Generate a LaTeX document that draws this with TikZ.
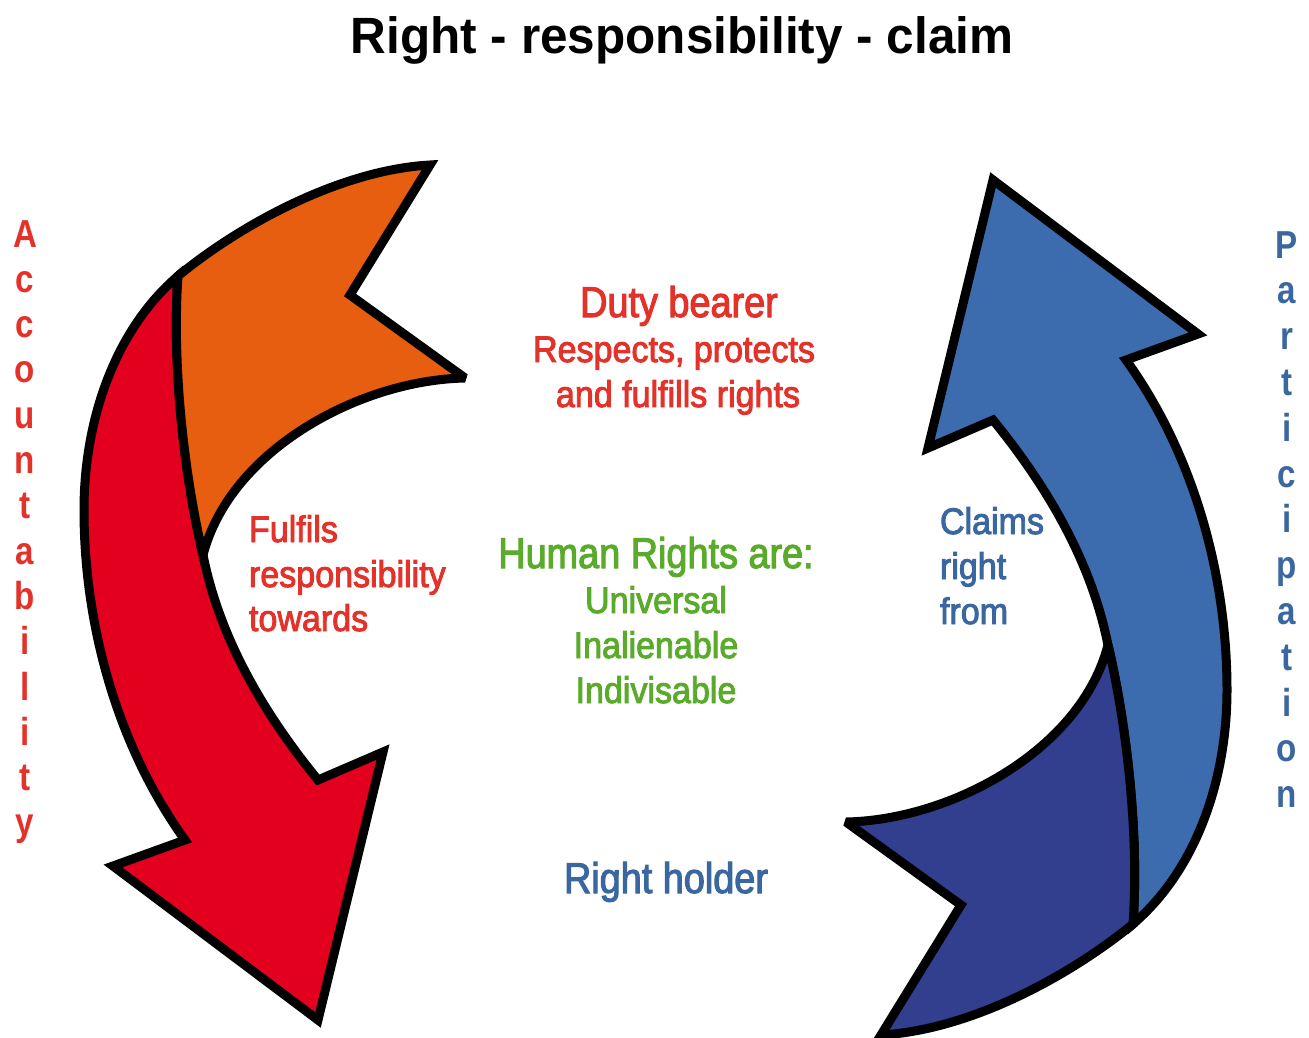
\documentclass[tikz,border=0pt]{standalone}
\usepackage{fontspec}
\setmainfont{Liberation Sans}
\newfontfamily\headfont[FakeStretch=0.97]{Liberation Sans}
\newfontfamily\vertfont[FakeStretch=0.85]{Liberation Sans}
\newfontfamily\bigfont[FakeStretch=0.88,FakeBold=2.5]{Liberation Sans}
\newfontfamily\smallfont[FakeStretch=0.92,FakeBold=2.5]{Liberation Sans}

\definecolor{dutyred}{HTML}{E3322A}
\definecolor{rightsgreen}{HTML}{5AAB2B}
\definecolor{holderblue}{HTML}{3A67A0}
\definecolor{bodyred}{HTML}{E2001E}
\definecolor{tailorange}{HTML}{E85E10}
\definecolor{bodyblue}{HTML}{3C6CAD}
\definecolor{taildarkblue}{HTML}{323E8E}

\tikzset{
  outline/.style={draw=black, line width=9pt, line join=miter, miter limit=3},
  txt/.style={inner sep=0pt, outer sep=0pt, anchor=base},
  bigtxt/.style={txt, font=\bigfont\fontsize{43}{48}\selectfont},
  smalltxt/.style={txt, font=\smallfont\fontsize{37}{42}\selectfont},
  vletter/.style={txt, font=\vertfont\bfseries\fontsize{39}{44}\selectfont},
}

% A curved arrow with a notched tail, drawn as two faces:
% #1 = body and head colour, #2 = tail colour
\newcommand\twistarrow[2]{%
  \filldraw[outline, fill=#1]
    (178,276) .. controls (115,330) and (84,420) .. (84,510)
    .. controls (84,630) and (120,750) .. (185,840)
    -- (113,866) -- (318,1020) -- (383,752) -- (318,780)
    .. controls (265,715) and (220,640) .. (203,555)
    .. controls (183,470) and (172,360) .. (178,276) -- cycle;
  \filldraw[outline, fill=#2]
    (178,276) .. controls (240,225) and (340,170) .. (430,165)
    -- (350,295) -- (465,378)
    .. controls (360,380) and (230,450) .. (203,555)
    .. controls (183,470) and (172,360) .. (178,276) -- cycle;
}

\begin{document}
\begin{tikzpicture}[x=1pt,y=-1pt]
\useasboundingbox (0,0) rectangle (1309,1037);

% title
\node[txt, font=\headfont\bfseries\fontsize{51}{56}\selectfont] (title) at (682,53) {Right - responsibility - claim};

% the two arrows
\twistarrow{bodyred}{tailorange}
\begin{scope}[rotate around={180:(655.5,600)}]
  \twistarrow{bodyblue}{taildarkblue}
\end{scope}

% duty bearer
\node[bigtxt, text=dutyred] (duty) at (679,317) {Duty bearer};
\node[smalltxt, text=dutyred] (resp1) at (674,362) {Respects, protects};
\node[smalltxt, text=dutyred] (resp2) at (678,407) {and fulfills rights};

% accountability side label
\node[smalltxt, text=dutyred, anchor=base west] (ful1) at (249,542) {Fulfils};
\node[smalltxt, text=dutyred, anchor=base west] (ful2) at (249,587) {responsibility};
\node[smalltxt, text=dutyred, anchor=base west] (ful3) at (249,631) {towards};

% centre
\node[bigtxt, text=rightsgreen] (hr) at (656,568) {Human Rights are:};
\node[smalltxt, text=rightsgreen] (hr1) at (656,613) {Universal};
\node[smalltxt, text=rightsgreen] (hr2) at (656,658) {Inalienable};
\node[smalltxt, text=rightsgreen] (hr3) at (656,703) {Indivisable};

% claims side label
\node[smalltxt, text=holderblue, anchor=base west] (cl1) at (940,534) {Claims};
\node[smalltxt, text=holderblue, anchor=base west] (cl2) at (940,579) {right};
\node[smalltxt, text=holderblue, anchor=base west] (cl3) at (940,624) {from};

% right holder
\node[bigtxt, text=holderblue] (holder) at (666,893) {Right holder};

% vertical words
\foreach \ch [count=\i from 0] in {A,c,c,o,u,n,t,a,b,i,l,i,t,y}
  \node[vletter, text=dutyred] (acc\i) at (25,{247+45.3*\i}) {\ch};
\foreach \ch [count=\i from 0] in {P,a,r,t,i,c,i,p,a,t,i,o,n}
  \node[vletter, text=holderblue] (par\i) at (1287,{258+45.8*\i}) {\ch};
\end{tikzpicture}
\end{document}
